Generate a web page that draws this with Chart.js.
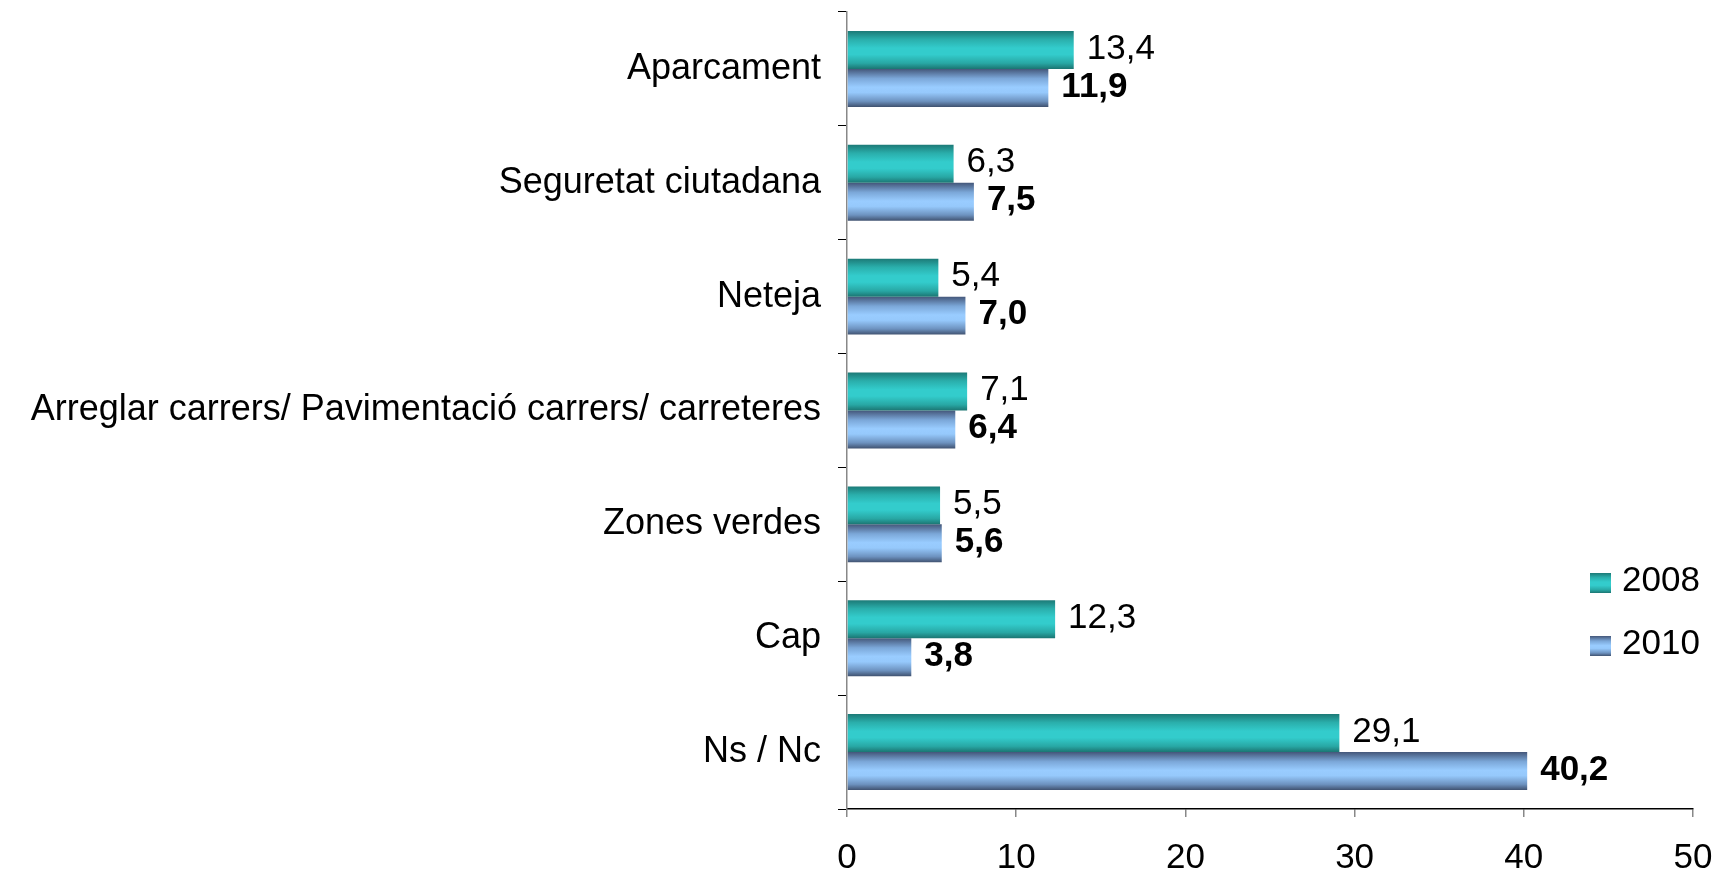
<!DOCTYPE html>
<html><head><meta charset="utf-8">
<script src="https://cdn.jsdelivr.net/npm/chart.js@4.4.1/dist/chart.umd.min.js"></script>
<style>html,body{margin:0;padding:0;background:#fff}#wrap{width:1716px;height:873px;position:relative}</style>
</head><body><div id="wrap"><canvas id="c" width="1716" height="873"></canvas></div>
<script>
const categories = ["Aparcament","Seguretat ciutadana","Neteja","Arreglar carrers/ Pavimentació carrers/ carreteres","Zones verdes","Cap","Ns / Nc"];
const seriesNames = ["2008","2010"];
const values2008 = [13.4,6.3,5.4,7.1,5.5,12.3,29.1];
const values2010 = [11.9,7.5,7.0,6.4,5.6,3.8,40.2];
const xTickMin = 0, xTickMax = 50, xTickStep = 10;

const FONT = '"Liberation Sans", Arial, Helvetica, sans-serif';
const CAT_PCT = 0.667;
const PALETTES = [
  [[0,'#1c7a77'],[0.22,'#2aaeab'],[0.45,'#33cccc'],[0.62,'#33cccc'],[0.85,'#28a7a4'],[1,'#1b7572']],
  [[0,'#44577a'],[0.25,'#7ba7d8'],[0.48,'#99ccff'],[0.62,'#96c9fc'],[0.85,'#6d92bf'],[1,'#405270']]
];
function makeGrad(ctx, idx, top, h) {
  const g = ctx.createLinearGradient(0, top, 0, top + h);
  PALETTES[idx].forEach(s => g.addColorStop(s[0], s[1]));
  return g;
}
function barGradient(c) {
  const chart = c.chart, y = chart.scales && chart.scales.y;
  const idx = c.datasetIndex;
  if (!y || c.dataIndex === undefined || !chart.chartArea) return PALETTES[idx][3][1];
  const cat = Math.abs(y.getPixelForValue(1) - y.getPixelForValue(0));
  const th = cat * CAT_PCT / 2;
  const top = y.getPixelForValue(c.dataIndex) - cat * CAT_PCT / 2 + idx * th;
  return makeGrad(chart.ctx, idx, top, th);
}

const labelPlugin = {
  id: 'vals',
  afterDatasetsDraw(chart) {
    const ctx = chart.ctx;
    ctx.save();
    ctx.fillStyle = '#000';
    ctx.textAlign = 'left';
    ctx.textBaseline = 'middle';
    chart.data.datasets.forEach((ds, di) => {
      const meta = chart.getDatasetMeta(di);
      ctx.font = (di === 1 ? 'bold ' : '') + '35px ' + FONT;
      meta.data.forEach((el, i) => {
        const txt = ds.data[i].toFixed(1).replace('.', ',');
        ctx.fillText(txt, el.x + 13, el.y - 1);
      });
    });
    ctx.restore();
  }
};
const legendPlugin = {
  id: 'customLegend',
  afterDraw(chart) {
    const ctx = chart.ctx;
    ctx.save();
    const boxes = [573, 636];
    seriesNames.forEach((name, i) => {
      const by = boxes[i];
      ctx.fillStyle = makeGrad(ctx, i, by, 20);
      ctx.fillRect(1590, by, 21, 20);
      ctx.fillStyle = '#000';
      ctx.font = '35px ' + FONT;
      ctx.textAlign = 'left';
      ctx.textBaseline = 'middle';
      ctx.fillText(name, 1622, by + 8);
    });
    ctx.restore();
  }
};

new Chart(document.getElementById('c'), {
  type: 'bar',
  data: {
    labels: categories,
    datasets: [
      { label: seriesNames[0], data: values2008, backgroundColor: barGradient, borderWidth: 0 },
      { label: seriesNames[1], data: values2010, backgroundColor: barGradient, borderWidth: 0 }
    ]
  },
  options: {
    indexAxis: 'y',
    responsive: false,
    animation: false,
    devicePixelRatio: 1,
    datasets: { bar: { categoryPercentage: CAT_PCT, barPercentage: 1 } },
    layout: { padding: { top: 12, right: 23, left: 0, bottom: 0 } },
    plugins: { legend: { display: false }, tooltip: { enabled: false } },
    scales: {
      x: {
        min: xTickMin, max: xTickMax,
        ticks: { stepSize: xTickStep, color: '#000', font: { family: FONT, size: 35 }, padding: 20 },
        grid: { drawOnChartArea: false, color: '#888888', tickLength: 8, lineWidth: 1.5 },
        border: { color: '#000', width: 1.5 },
        afterFit(s) { s.height = 64; s.paddingLeft = 0; s.paddingRight = 0; }
      },
      y: {
        ticks: { color: '#000', font: { family: FONT, size: 36 }, padding: 17 },
        grid: { drawOnChartArea: false, color: '#000', tickLength: 9, offset: true, lineWidth: 1 },
        border: { color: '#888888', width: 1.5 },
        afterFit(s) { s.width = 847; s.paddingTop = 0; s.paddingBottom = 0; }
      }
    }
  },
  plugins: [labelPlugin, legendPlugin]
});
</script>
</body></html>
